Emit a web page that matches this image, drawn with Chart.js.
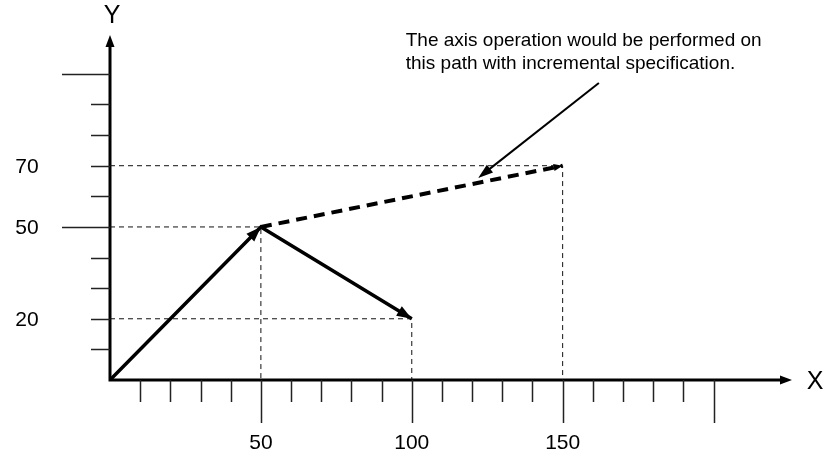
<!DOCTYPE html>
<html>
<head>
<meta charset="utf-8">
<style>
  html, body { margin: 0; padding: 0; background: #fff; }
  #chart { display: block; }
</style>
<script src="https://cdn.jsdelivr.net/npm/chart.js@4/dist/chart.umd.min.js"></script>
</head>
<body>
<canvas id="chart" width="831" height="458"></canvas>
<script>
// ticks along the axes
const xTicks = [10, 20, 30, 40, 50, 60, 70, 80, 90, 100, 110, 120, 130, 140, 150, 160, 170, 180, 190, 200]
const xLongTicks = [50, 100, 150, 200]
const xTickLabels = [50, 100, 150]
const yTicks = [10, 20, 30, 40, 50, 60, 70, 80, 90, 100]
const yLongTicks = [50, 100]
const yTickLabels = [20, 50, 70]

// path values
const pathX = [0, 50, 100]
const pathY = [0, 50, 20]
const incrementalX = [50, 150]
const incrementalY = [50, 70]

// points that get dashed guide lines to both axes
const guideX = [50, 100, 150]
const guideY = [50, 20, 70]

// annotation
const noteLines = [
  'The axis operation would be performed on',
  'this path with incremental specification.',
]
const noteAnchor = { x: 98, y: 109 }
const noteTail = { x: 162, y: 97 }
const noteTip = { x: 122, y: 66 }

const FONT = '"Liberation Sans", Arial, Helvetica, sans-serif'

function toPoints(xs, ys) {
  return xs.map((x, i) => ({ x, y: ys[i] }))
}

function arrowHead(ctx, fx, fy, tx, ty, len, half) {
  const a = Math.atan2(ty - fy, tx - fx)
  const bx = tx - len * Math.cos(a)
  const by = ty - len * Math.sin(a)
  ctx.beginPath()
  ctx.moveTo(tx, ty)
  ctx.lineTo(bx + half * Math.sin(a), by - half * Math.cos(a))
  ctx.lineTo(bx - half * Math.sin(a), by + half * Math.cos(a))
  ctx.closePath()
  ctx.fill()
}

const guideSets = guideX.map((gx, i) => ({
  data: [
    { x: 0, y: guideY[i] },
    { x: gx, y: guideY[i] },
    { x: gx, y: 0 },
  ],
  borderColor: '#111',
  borderWidth: 1,
  borderDash: [5, 4],
}))

const drawingPlugin = {
  id: 'drawing',
  beforeDatasetsDraw(chart) {
    const { ctx, chartArea } = chart
    const xs = chart.scales.x
    const ys = chart.scales.y
    const x0 = xs.getPixelForValue(0)
    const y0 = ys.getPixelForValue(0)
    ctx.save()
    ctx.strokeStyle = '#000'
    ctx.fillStyle = '#000'

    // axis lines
    ctx.lineWidth = 3
    ctx.beginPath()
    ctx.moveTo(x0, y0 + 1.5)
    ctx.lineTo(x0, chartArea.top + 8)
    ctx.moveTo(x0 - 1.5, y0)
    ctx.lineTo(chartArea.right - 8, y0)
    ctx.stroke()
    arrowHead(ctx, x0, y0, x0, chartArea.top, 12, 4.5)
    arrowHead(ctx, x0, y0, chartArea.right, y0, 12, 4.5)

    // ticks
    ctx.lineWidth = 1.5
    ctx.strokeStyle = '#222'
    ctx.beginPath()
    xTicks.forEach((v) => {
      const px = Math.round(xs.getPixelForValue(v)) + 0.5
      const len = xLongTicks.includes(v) ? 43 : 22
      ctx.moveTo(px, y0)
      ctx.lineTo(px, y0 + len)
    })
    yTicks.forEach((v) => {
      const py = Math.round(ys.getPixelForValue(v)) + 0.5
      const len = yLongTicks.includes(v) ? 48 : 19
      ctx.moveTo(x0, py)
      ctx.lineTo(x0 - len, py)
    })
    ctx.stroke()

    // tick labels
    ctx.fillStyle = '#000'
    ctx.font = '21px ' + FONT
    ctx.textAlign = 'center'
    ctx.textBaseline = 'middle'
    xTickLabels.forEach((v) => {
      ctx.fillText(String(v), xs.getPixelForValue(v), y0 + 63)
    })
    yTickLabels.forEach((v) => {
      ctx.fillText(String(v), x0 - 83, ys.getPixelForValue(v) + 1)
    })

    // axis names
    ctx.font = '25px ' + FONT
    ctx.fillText('Y', x0 + 2, chartArea.top - 19)
    ctx.fillText('X', chartArea.right + 23, y0 + 2)
    ctx.restore()
  },
  afterDatasetsDraw(chart) {
    const { ctx } = chart
    const xs = chart.scales.x
    const ys = chart.scales.y
    const px = (p) => [xs.getPixelForValue(p.x), ys.getPixelForValue(p.y)]
    ctx.save()
    ctx.fillStyle = '#000'
    ctx.strokeStyle = '#000'

    // arrowheads on the solid path
    const path = toPoints(pathX, pathY)
    for (let i = 1; i < path.length; i++) {
      const [fx, fy] = px(path[i - 1])
      const [tx, ty] = px(path[i])
      arrowHead(ctx, fx, fy, tx, ty, 15, 5.5)
    }
    // small head on the incremental path
    const inc = toPoints(incrementalX, incrementalY)
    {
      const [fx, fy] = px(inc[0])
      const [tx, ty] = px(inc[1])
      arrowHead(ctx, fx, fy, tx, ty, 9, 3.5)
    }

    // annotation arrow
    const [ax, ay] = px(noteTail)
    const [bx, by] = px(noteTip)
    ctx.lineWidth = 2
    ctx.beginPath()
    ctx.moveTo(ax, ay)
    ctx.lineTo(bx + (ax - bx) * 0.08, by + (ay - by) * 0.08)
    ctx.stroke()
    arrowHead(ctx, ax, ay, bx, by, 15, 5)

    // annotation text
    const [nx, ny] = px(noteAnchor)
    ctx.font = '19px ' + FONT
    ctx.textAlign = 'left'
    ctx.textBaseline = 'alphabetic'
    noteLines.forEach((line, i) => {
      ctx.fillText(line, nx, ny + i * 23)
    })
    ctx.restore()
  },
}

new Chart(document.getElementById('chart'), {
  type: 'scatter',
  data: {
    datasets: [
      ...guideSets,
      {
        data: toPoints(incrementalX, incrementalY),
        borderColor: '#000',
        borderWidth: 4,
        borderDash: [11, 7],
      },
      {
        data: toPoints(pathX, pathY),
        borderColor: '#000',
        borderWidth: 3.5,
      },
    ],
  },
  options: {
    responsive: false,
    animation: false,
    showLine: true,
    elements: {
      point: { radius: 0, hoverRadius: 0 },
      line: { tension: 0, borderCapStyle: 'butt', fill: false },
    },
    layout: {
      padding: { left: 110, right: 39, top: 35, bottom: 78 },
    },
    scales: {
      x: { type: 'linear', min: 0, max: 226, display: false },
      y: { type: 'linear', min: 0, max: 112.7, display: false },
    },
    plugins: {
      legend: { display: false },
      tooltip: { enabled: false },
    },
    events: [],
  },
  plugins: [drawingPlugin],
})
</script>
</body>
</html>
